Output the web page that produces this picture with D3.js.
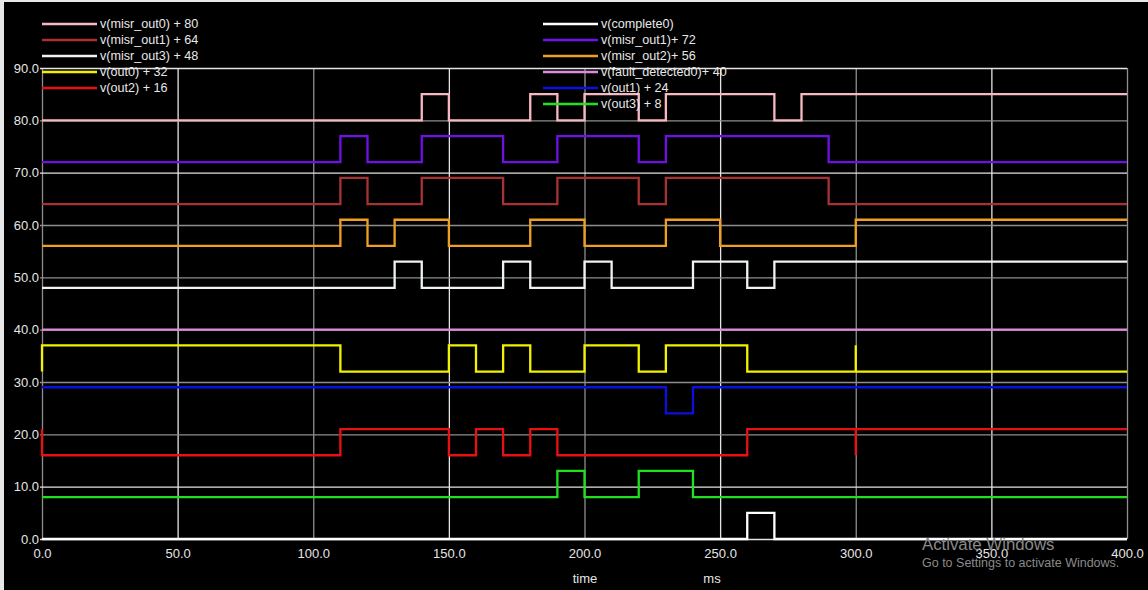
<!DOCTYPE html>
<html>
<head>
<meta charset="utf-8">
<script src="https://cdn.jsdelivr.net/npm/d3@7"></script>
<style>
  html, body { margin: 0; padding: 0; background: #000; }
  svg { display: block; }
  text { font-family: "Liberation Sans", Arial, sans-serif; }
</style>
</head>
<body>
<svg id="chart" width="1148" height="590"></svg>
<script>
// ---- data: [time (ms), level (V)] step points, offsets, labels ----
const misrOut0 = [[0,0],[140,5],[150,0],[180,5],[190,0],[200,5],[220,0],[230,5],[270,0],[280,5],[400,5]];
const misrOut1 = [[0,0],[110,5],[120,0],[140,5],[170,0],[190,5],[220,0],[230,5],[290,0],[400,0]];
const misrOut2 = [[0,0],[110,5],[120,0],[130,5],[150,0],[180,5],[200,0],[230,5],[250,0],[300,5],[400,5]];
const misrOut3 = [[0,0],[130,5],[140,0],[170,5],[180,0],[200,5],[210,0],[240,5],[260,0],[270,5],[400,5]];
const faultDetected0 = [[0,0],[400,0]];
const out0 = [[0,0],[0,5],[110,0],[150,5],[160,0],[170,5],[180,0],[200,5],[220,0],[230,5],[260,0],[300,0],[300,5],[300,0],[400,0]];
const out1 = [[0,5],[230,0],[240,5],[400,5]];
const out2 = [[0,5],[0,0],[110,5],[150,0],[160,5],[170,0],[180,5],[190,0],[260,5],[300,5],[300,0],[300,5],[400,5]];
const out3 = [[0,0],[190,5],[200,0],[220,5],[240,0],[400,0]];
const complete0 = [[0,0],[260,5],[270,0],[400,0]];

const seriesNames   = ["v(misr_out0) + 80","v(misr_out1) + 64","v(misr_out3) + 48","v(out0) + 32","v(out2) + 16",
                       "v(complete0)","v(misr_out1)+ 72","v(misr_out2)+ 56","v(fault_detected0)+ 40","v(out1) + 24","v(out3) + 8"];
const seriesData    = [misrOut0, misrOut1, misrOut3, out0, out2, complete0, misrOut1, misrOut2, faultDetected0, out1, out3];
const seriesOffsets = [80, 64, 48, 32, 16, 0, 72, 56, 40, 24, 8];
const seriesColors  = ["#f7b8c2","#a83232","#eef2f2","#f2f200","#e81010","#ffffff","#7010e8","#f0a020","#dc8cdc","#0a10e0","#20e020"];

const xTicks = [0,50,100,150,200,250,300,350,400];
const yTicks = [0,10,20,30,40,50,60,70,80,90];
const xTitle = "time";
const xUnit = "ms";

// ---- layout ----
const W = 1148, H = 590;
const L = 42, R = 1127, T = 68, B = 539;
const svg = d3.select("#chart");

svg.append("rect").attr("width", W).attr("height", H).attr("fill", "#000");
// screenshot edge
svg.append("rect").attr("x",0).attr("y",0).attr("width",4).attr("height",H).attr("fill","#e8e8e8");
svg.append("rect").attr("x",0).attr("y",0).attr("width",W).attr("height",2).attr("fill","#e8e8e8");

const x = d3.scaleLinear().domain([0,400]).range([L,R]);
const y = d3.scaleLinear().domain([0,90]).range([B,T]);

const lightH = new Set([0,10,70,90]);

// grid via axes
const gx = svg.append("g").attr("transform", `translate(0,${B})`)
  .call(d3.axisBottom(x).tickValues(xTicks).tickSize(-(B-T)).tickSizeOuter(0).tickFormat(d3.format(".1f")));
gx.select(".domain").remove();
gx.selectAll(".tick line").attr("stroke", (d,i) => i % 2 ? "#e4e4e4" : "#8e8e8e").attr("stroke-width", 1.3);
gx.selectAll(".tick text").attr("fill", "#e6e6e6").attr("font-size", 13).attr("dy", "0.35em").attr("y", 14)
  .attr("font-family", "Liberation Sans, Arial, sans-serif");

const gy = svg.append("g").attr("transform", `translate(${L},0)`)
  .call(d3.axisLeft(y).tickValues(yTicks).tickSize(-(R-L)).tickSizeOuter(0).tickFormat(d3.format(".1f")));
gy.select(".domain").remove();
gy.selectAll(".tick line").attr("x1", -2).attr("stroke", d => lightH.has(d) ? "#e4e4e4" : "#8e8e8e").attr("stroke-width", 1.3);
gy.selectAll(".tick text").attr("fill", "#e6e6e6").attr("font-size", 13).attr("x", -3)
  .attr("font-family", "Liberation Sans, Arial, sans-serif");

// signals
const line = d3.line().x(d => x(d[0])).curve(d3.curveStepAfter);
seriesData.forEach((data, i) => {
  svg.append("path")
    .attr("d", line.y(d => y(d[1] + seriesOffsets[i]))(data))
    .attr("fill", "none")
    .attr("stroke", seriesColors[i])
    .attr("stroke-width", 2.3);
});

// legend
const legend = svg.append("g");
seriesNames.forEach((name, i) => {
  const col = i < 5 ? 0 : 1;
  const row = i < 5 ? i : i - 5;
  const lx = col ? 543 : 42;
  const ly = 24 + row * 16;
  legend.append("line").attr("x1", lx).attr("x2", lx + 55).attr("y1", ly).attr("y2", ly)
    .attr("stroke", seriesColors[i]).attr("stroke-width", 2.5);
  legend.append("text").attr("x", lx + 58).attr("y", ly).attr("dy", "0.35em")
    .attr("fill", "#e8e8e8").attr("font-size", 12.6).text(name);
});

// axis titles
svg.append("text").attr("x", 585).attr("y", 578).attr("dy", "0.35em").attr("text-anchor", "middle")
  .attr("fill", "#e6e6e6").attr("font-size", 13).text(xTitle);
svg.append("text").attr("x", 712).attr("y", 578).attr("dy", "0.35em").attr("text-anchor", "middle")
  .attr("fill", "#e6e6e6").attr("font-size", 13).text(xUnit);

// OS watermark seen in the screenshot
svg.append("text").attr("x", 922).attr("y", 544).attr("dy", "0.35em")
  .attr("fill", "#8a8a8a").attr("font-size", 16.8).attr("font-family", "Open Sans, sans-serif").text("Activate Windows");
svg.append("text").attr("x", 922).attr("y", 563).attr("dy", "0.35em")
  .attr("fill", "#8a8a8a").attr("font-size", 12.5).attr("font-family", "Open Sans, sans-serif").text("Go to Settings to activate Windows.");
</script>
</body>
</html>
